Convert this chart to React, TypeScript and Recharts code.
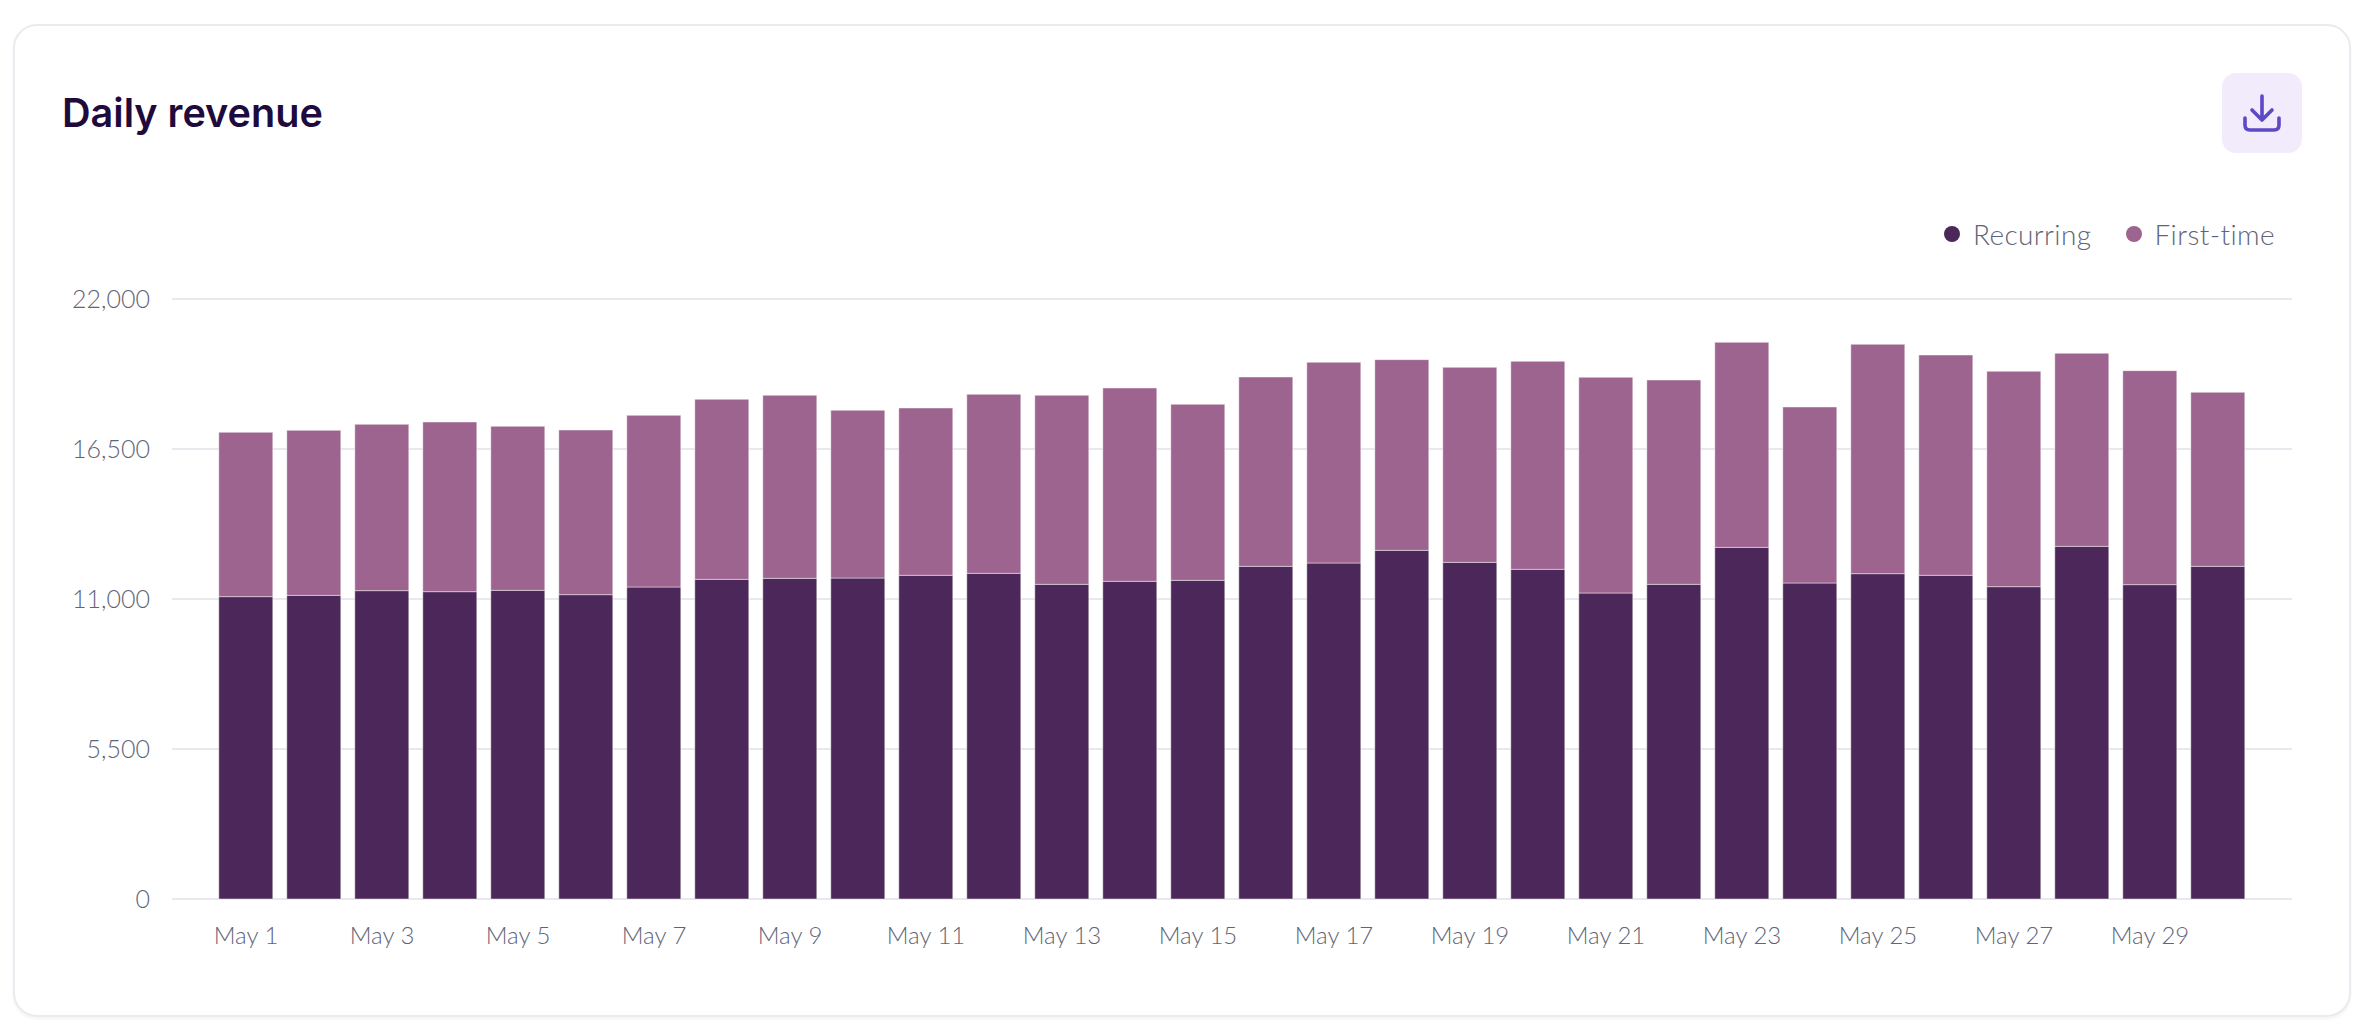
import { BarChart, Bar, XAxis, YAxis, CartesianGrid, Legend } from "recharts";

const days = [
    "May 1", "May 2", "May 3", "May 4", "May 5", "May 6", "May 7", "May 8", "May 9", "May 10",
    "May 11", "May 12", "May 13", "May 14", "May 15", "May 16", "May 17", "May 18", "May 19", "May 20",
    "May 21", "May 22", "May 23", "May 24", "May 25", "May 26", "May 27", "May 28", "May 29", "May 30",
];

const recurring = [
    11086, 11134, 11306, 11269, 11318, 11159, 11440, 11721, 11758, 11770,
    11868, 11941, 11538, 11648, 11684, 12198, 12320, 12784, 12344, 12088,
    11220, 11538, 12894, 11587, 11929, 11868, 11452, 12931, 11526, 12198,
];

const firstTime = [
    6025, 6050, 6098, 6221, 6013, 6038, 6294, 6600, 6710, 6148,
    6135, 6563, 6930, 7089, 6454, 6942, 7358, 6992, 7150, 7626,
    7908, 7492, 7517, 6453, 8409, 8078, 7896, 7077, 7846, 6380,
];

const yTicks = [0, 5500, 11000, 16500, 22000];

const data = days.map((day, i) => ({
    day,
    recurring: recurring[i],
    firstTime: firstTime[i],
}));

const LABEL_FONT = "Lato, sans-serif";
const LABEL_COLOR = "#5f6578";

function ChartLegend({ payload }: { payload?: any[] }) {
    return (
        <div style={{ display: "flex", height: 32, alignItems: "center", fontFamily: LABEL_FONT, fontWeight: 300, fontSize: 28, letterSpacing: 0.4, color: LABEL_COLOR }}>
            {(payload || []).map((entry) => (
                <div key={entry.value} style={{ display: "flex", alignItems: "center", marginLeft: 34 }}>
                    <span style={{ width: 16, height: 16, borderRadius: 8, background: entry.color, marginRight: 13 }} />
                    {entry.value}
                </div>
            ))}
        </div>
    );
}

export default function App() {
    return (
        <div style={{ position: "absolute", left: 0, top: 0, width: 2368, height: 1036, background: "#fff" }}>
            <div
                style={{
                    position: "absolute",
                    left: 13,
                    top: 24,
                    width: 2338,
                    height: 993,
                    boxSizing: "border-box",
                    border: "2px solid #eaeaf0",
                    borderRadius: 24,
                    boxShadow: "0 2px 3px rgba(30,20,60,0.05)",
                }}
            />
            <div
                style={{
                    position: "absolute",
                    left: 62,
                    top: 88,
                    fontFamily: "Inter, sans-serif",
                    fontWeight: 600,
                    fontSize: 39.6,
                    lineHeight: "50px",
                    color: "#1f0a3d",
                }}
            >
                Daily revenue
            </div>
            <div style={{ position: "absolute", left: 2222, top: 73, width: 80, height: 80, borderRadius: 14, background: "#f2ebfc" }}>
                <svg width="80" height="80" viewBox="0 0 80 80" fill="none" stroke="#5b49c5" strokeWidth="3.6" strokeLinecap="round" strokeLinejoin="round">
                    <path d="M40 23V46M30 37L40 47L50 37" />
                    <path d="M23 45V52Q23 57 28 57H52Q57 57 57 52V45" />
                </svg>
            </div>
            <div style={{ position: "absolute", left: 0, top: 0 }}>
                <BarChart
                    width={2368}
                    height={1036}
                    data={data}
                    margin={{ top: 267, right: 76, bottom: 0, left: 0 }}
                    barCategoryGap="10%"
                >
                    <CartesianGrid vertical={false} stroke="#e8e8ef" strokeWidth={2} />
                    <XAxis
                        dataKey="day"
                        height={137}
                        interval={1}
                        padding={{ left: 40, right: 40 }}
                        axisLine={false}
                        tickLine={false}
                        tickMargin={22}
                        tick={{ fontFamily: LABEL_FONT, fontWeight: 300, fontSize: 24, fill: LABEL_COLOR }}
                    />
                    <YAxis
                        width={172}
                        domain={[0, 22000]}
                        ticks={yTicks}
                        axisLine={false}
                        tickLine={false}
                        tickMargin={16}
                        tickFormatter={(v: number) => v.toLocaleString("en-US")}
                        tick={{ fontFamily: LABEL_FONT, fontWeight: 300, fontSize: 25, fill: LABEL_COLOR }}
                    />
                    <Legend
                        verticalAlign="top"
                        align="right"
                        itemSorter={null}
                        content={(props: any) => <ChartLegend payload={props.payload} />}
                        wrapperStyle={{ top: 218, right: 93, left: "auto", width: "auto" }}
                    />
                    <Bar dataKey="recurring" name="Recurring" stackId="revenue" fill="#4b2859" stroke="#fff" strokeOpacity={0.45} strokeWidth={1} isAnimationActive={false} />
                    <Bar dataKey="firstTime" name="First-time" stackId="revenue" fill="#9c648e" stroke="#fff" strokeOpacity={0.45} strokeWidth={1} isAnimationActive={false} />
                </BarChart>
            </div>
        </div>
    );
}
